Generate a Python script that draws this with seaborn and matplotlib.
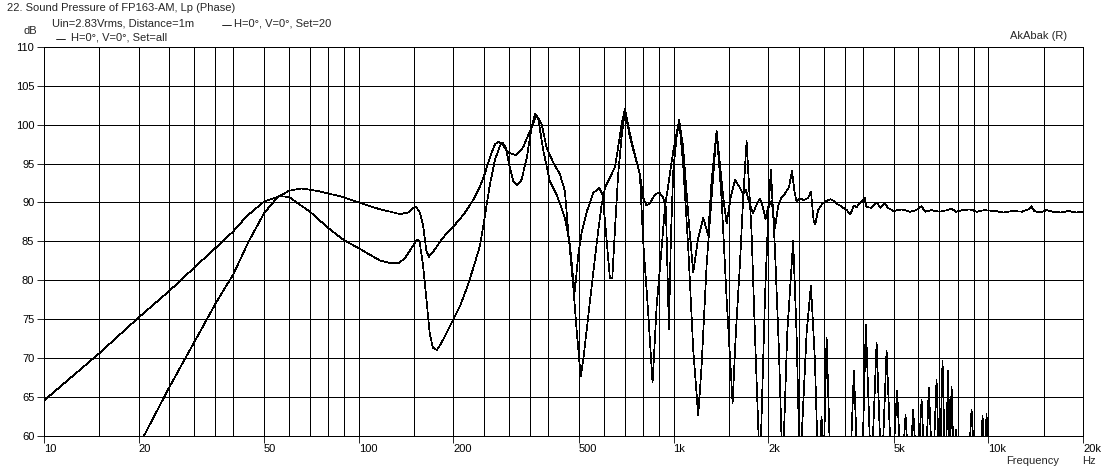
import matplotlib
matplotlib.use("Agg")
import matplotlib.pyplot as plt
from matplotlib.lines import Line2D
from matplotlib.ticker import FixedLocator, NullFormatter
import seaborn as sns
import pandas as pd

# Curve 1: starts at 10 Hz, ends flat around 89 dB
freq_a = [10, 15, 20, 25, 30, 35, 40, 44, 50, 56,
          60, 64, 70, 80, 90, 100, 117, 126, 134, 140,
          147, 153, 156, 160, 164, 168, 172, 177, 183, 190,
          200, 210, 220, 231, 243, 252, 261, 271, 281, 286,
          293, 302, 310, 319, 329, 342, 354, 363, 372, 386,
          405, 425, 436, 452, 469, 480, 486, 498, 511, 530,
          556, 581, 595, 610, 628, 639, 651, 667, 684, 701,
          727, 754, 782, 801, 821, 841, 873, 901, 927, 946,
          967, 981, 998, 1023, 1042, 1073, 1114, 1155, 1198, 1243,
          1289, 1321, 1371, 1404, 1439, 1475, 1519, 1567, 1625, 1665,
          1700, 1740, 1790, 1840, 1880, 1920, 1960, 2000, 2050, 2100,
          2150, 2200, 2250, 2330, 2380, 2420, 2460, 2521, 2600, 2680,
          2733, 2790, 2820, 2880, 2980, 3065, 3150, 3230, 3300, 3380,
          3550, 3650, 3740, 3820, 3920, 4050, 4100, 4250, 4420, 4550,
          4700, 4800, 5000, 5300, 5650, 5900, 6140, 6300, 6600, 7000,
          7400, 7650, 7900, 8300, 8770, 9200, 9700, 10500, 11200, 12000,
          12800, 13400, 13700, 14000, 14600, 15300, 16000, 17000, 18000, 19000,
          20000]
spl_a = [64.5, 70.6, 75.2, 78.6, 81.6, 84.1, 86.3, 88.2, 90.1, 90.8,
         90.7, 89.9, 88.8, 86.7, 85.1, 84.1, 82.5, 82.2, 82.2, 82.8,
         84.1, 85.2, 85.0, 81.9, 77.6, 73.2, 71.3, 71.0, 71.9, 73.2,
         75.0, 76.7, 78.9, 81.5, 84.5, 88.4, 92.3, 95.5, 97.3, 97.7,
         97.1, 94.5, 92.7, 92.2, 92.9, 95.8, 99.6, 101.4, 100.7, 96.6,
         92.7, 91.0, 89.8, 88.0, 84.5, 80.2, 78.6, 83.2, 86.2, 88.8,
         91.2, 91.9, 91.0, 86.2, 80.2, 80.2, 86.2, 93.6, 98.4, 101.8,
         98.4, 96.0, 93.6, 90.6, 89.6, 89.9, 91.0, 91.3, 90.6, 89.3,
         73.7, 85.4, 94.0, 98.4, 100.6, 97.1, 88.4, 81.0, 85.4, 88.0,
         85.8, 92.7, 99.2, 94.9, 90.6, 87.3, 90.6, 92.9, 91.9, 91.0,
         91.6, 90.0, 88.6, 89.8, 90.5, 89.5, 87.9, 89.5, 90.2, 86.7,
         89.5, 90.6, 91.0, 92.0, 94.1, 91.5, 90.1, 90.5, 90.3, 90.6,
         91.4, 87.5, 87.2, 89.0, 89.9, 90.2, 90.4, 90.2, 89.8, 89.6,
         89.0, 88.5, 89.6, 89.4, 90.0, 90.6, 89.4, 89.3, 90.0, 89.3,
         89.9, 89.3, 88.9, 89.1, 88.8, 89.0, 89.5, 88.8, 89.0, 88.8,
         89.0, 89.2, 88.8, 89.0, 89.1, 88.8, 89.0, 88.9, 88.7, 88.9,
         88.8, 89.1, 89.5, 88.9, 88.7, 89.0, 88.8, 88.7, 88.9, 88.7,
         88.8]

# Curve 2: starts near 21 Hz, comb-like above 1 kHz
freq_b = [20.8, 25, 30, 35, 40, 44.6, 50, 55, 60, 65.7,
          73.4, 87, 100, 117, 126, 135, 144, 149, 152, 156,
          160, 164, 167, 172, 181, 190, 200, 215, 231, 243,
          252, 261, 271, 279, 288, 299, 316, 333, 350, 367,
          381, 395, 415, 436, 452, 463, 480, 492, 507, 517,
          536, 556, 576, 591, 606, 628, 651, 667, 684, 701,
          727, 754, 782, 801, 831, 858, 884, 912, 939, 998,
          1042, 1073, 1114, 1155, 1198, 1228, 1274, 1321, 1371, 1421,
          1475, 1541, 1578, 1625, 1665, 1707, 1770, 1814, 1882, 1952,
          2000, 2039, 2100, 2162, 2222, 2298, 2400, 2460, 2521, 2648,
          2733, 2813, 2883, 2954, 2995, 3065, 3160, 3630, 3742, 3860,
          3965, 4085, 4248, 4418, 4582, 4753, 4940, 5134, 5294, 5460,
          5615, 5773, 5955, 6140, 6305, 6476, 6660, 6851, 7000, 7157,
          7305, 7458, 7550, 7646, 7770, 7891, 8050, 8600, 8851, 9100,
          9350, 9592, 9735, 9876, 10100]
spl_b = [60.0, 66.2, 72.0, 76.9, 80.8, 84.9, 88.6, 90.6, 91.5, 91.8,
         91.5, 90.8, 90.0, 89.1, 88.8, 88.5, 88.7, 89.3, 89.4, 88.8,
         87.1, 83.8, 83.0, 83.6, 84.9, 86.0, 86.9, 88.4, 90.3, 92.1,
         93.8, 95.8, 97.5, 97.8, 97.3, 96.4, 96.1, 97.1, 99.2, 101.2,
         100.1, 97.1, 95.1, 93.6, 91.4, 86.2, 79.3, 73.7, 67.6, 69.8,
         75.4, 81.0, 86.2, 89.7, 91.9, 93.2, 94.5, 97.1, 100.1, 102.0,
         98.8, 96.2, 93.6, 85.0, 75.8, 66.8, 76.7, 83.0, 89.3, 96.6,
         100.6, 94.9, 84.1, 71.1, 62.6, 68.9, 81.9, 90.6, 99.2, 90.6,
         77.6, 64.2, 73.2, 81.9, 90.6, 97.9, 86.2, 73.2, 55.0, 77.6,
         88.4, 94.2, 84.1, 71.1, 55.0, 73.2, 85.0, 73.2, 55.0, 73.2,
         79.3, 69.8, 55.0, 62.4, 55.0, 72.6, 54.0, 54.0, 68.3, 54.0,
         54.0, 74.3, 54.0, 71.9, 54.0, 70.9, 54.0, 65.8, 54.0, 62.6,
         54.0, 63.3, 54.0, 64.6, 54.0, 66.2, 54.0, 67.2, 54.0, 69.6,
         54.0, 68.3, 56.0, 66.3, 56.0, 60.7, 54.0, 54.0, 63.3, 54.0,
         54.0, 62.5, 56.0, 62.8, 50.0]

major_freqs = [10, 20, 50, 100, 200, 500, 1000, 2000, 5000, 10000, 20000]
major_labels = ["10", "20", "50", "100", "200", "500", "1k", "2k", "5k", "10k", "20k"]
minor_freqs = [15, 25, 30, 35, 40, 60, 70, 80, 90,
               150, 250, 300, 350, 400, 600, 700, 800, 900,
               1500, 2500, 3000, 3500, 4000, 6000, 7000, 8000, 9000,
               15000]
db_ticks = [60, 65, 70, 75, 80, 85, 90, 95, 100, 105, 110]

sns.set_style("white")
plt.rcParams['font.family'] = ['Liberation Sans', 'DejaVu Sans']

W, H = 1108, 472
fig = plt.figure(figsize=(W / 100, H / 100), dpi=100)
ax = fig.add_axes([44 / W, 1 - 435.5 / H, (1083 - 44) / W, (435.5 - 47) / H])
ax.set_xscale('log')

df_a = pd.DataFrame({'freq': freq_a, 'spl': spl_a})
df_b = pd.DataFrame({'freq': freq_b, 'spl': spl_b})
sns.lineplot(data=df_a, x='freq', y='spl', color='black', lw=0.5,
             estimator=None, antialiased=False, ax=ax)
sns.lineplot(data=df_b, x='freq', y='spl', color='black', lw=0.5,
             estimator=None, antialiased=False, ax=ax)

ax.set_xlim(10, 20000)
ax.set_ylim(60, 110)
ax.xaxis.set_major_locator(FixedLocator(major_freqs))
ax.xaxis.set_minor_locator(FixedLocator(minor_freqs))
ax.xaxis.set_minor_formatter(NullFormatter())
ax.set_xticklabels(major_labels, ha='left')
ax.set_yticks(db_ticks)
ax.set_yticklabels([str(v) for v in db_ticks])
ax.grid(True, which='both', color='black', lw=0.6, antialiased=False)
ax.tick_params(axis='x', which='major', length=5, width=0.6, direction='out',
               bottom=True, pad=1, labelsize=8, colors='black')
ax.tick_params(axis='x', which='minor', length=0)
ax.tick_params(axis='y', which='major', length=5, width=0.6, direction='out',
               left=True, pad=2, labelsize=8, colors='black')
for sp in ax.spines.values():
    sp.set_color('black')
    sp.set_linewidth(0.6)
    sp.set_antialiased(False)
ax.set_xlabel('')
ax.set_ylabel('')


def px(x, y):
    return x / W, 1 - y / H


fs = 8
fig.text(*px(7, 8), "22. Sound Pressure of FP163-AM, Lp (Phase)", fontsize=fs, va='center', ha='left')
fig.text(*px(52, 24), "Uin=2.83Vrms, Distance=1m", fontsize=fs, va='center', ha='left')
fig.text(*px(234, 24), "H=0°, V=0°, Set=20", fontsize=fs, va='center', ha='left')
fig.text(*px(71, 38), "H=0°, V=0°, Set=all", fontsize=fs, va='center', ha='left')
fig.add_artist(Line2D([222 / W, 231 / W], [1 - 24.5 / H, 1 - 24.5 / H], color='black', lw=0.6))
fig.add_artist(Line2D([56 / W, 65 / W], [1 - 38.5 / H, 1 - 38.5 / H], color='black', lw=0.6))
fig.text(*px(24, 31), "dB", fontsize=fs, va='center', ha='left')
fig.text(*px(1010, 36), "AkAbak (R)", fontsize=fs, va='center', ha='left')
fig.text(*px(1006, 461), "Frequency", fontsize=fs, va='center', ha='left')
fig.text(*px(1082, 461), "Hz", fontsize=fs, va='center', ha='left')

fig.savefig("out.png", dpi=100, facecolor='white')
